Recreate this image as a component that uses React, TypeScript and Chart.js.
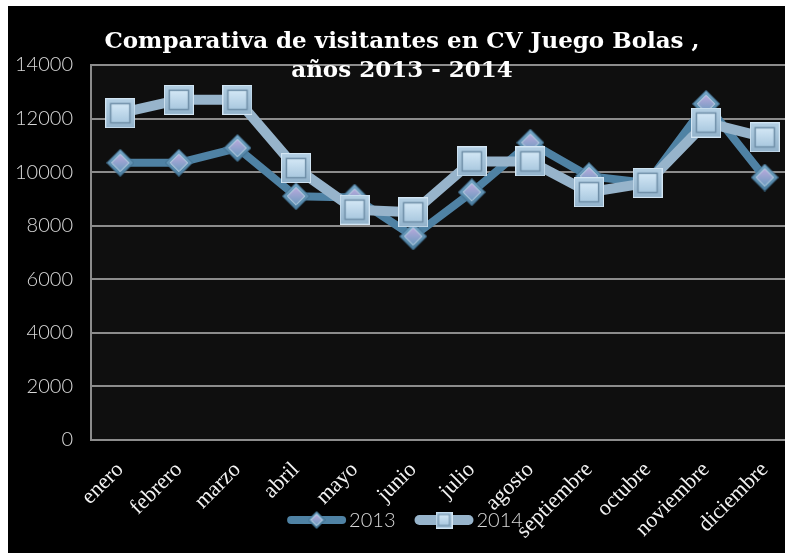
import React, { useEffect, useRef } from 'react';
import { Chart, registerables } from 'chart.js';

Chart.register(...registerables);

const months = ['enero', 'febrero', 'marzo', 'abril', 'mayo', 'junio', 'julio', 'agosto', 'septiembre', 'octubre', 'noviembre', 'diciembre'];
const visits2013 = [10350, 10350, 10900, 9100, 9050, 7600, 9250, 11100, 9850, 9600, 12550, 9800];
const visits2014 = [12200, 12700, 12700, 10150, 8600, 8500, 10400, 10400, 9250, 9600, 11850, 11300];
const seriesLabels = ['2013', '2014'];
const yMin = 0;
const yMax = 14000;
const yStep = 2000;
const titleLines = ['Comparativa de visitantes en CV Juego Bolas ,', 'años 2013 - 2014'];

const COLOR_2013 = '#4f82a4';
const COLOR_2014 = '#97b4cb';
const SANS = 'Lato, "Open Sans", sans-serif';
const SERIF = '"DejaVu Serif", "Liberation Serif", serif';
const SERIF_LIGHT = '"Liberation Serif", "DejaVu Serif", serif';

function makeSquare(size: number): HTMLCanvasElement {
  const c = document.createElement('canvas');
  c.width = size;
  c.height = size;
  const g = c.getContext('2d')!;
  const s = size;
  const og = g.createLinearGradient(0, 0, 0, s);
  og.addColorStop(0, '#b4d0e4');
  og.addColorStop(1, '#93b3cb');
  g.fillStyle = og;
  g.fillRect(0, 0, s, s);
  g.strokeStyle = '#d3e6f4';
  g.lineWidth = 1;
  g.strokeRect(0.5, 0.5, s - 1, s - 1);
  const inset = s * 0.18;
  const ig = g.createLinearGradient(0, inset, 0, s - inset);
  ig.addColorStop(0, '#d4e8f6');
  ig.addColorStop(1, '#a9c8df');
  g.fillStyle = ig;
  g.fillRect(inset, inset, s - 2 * inset, s - 2 * inset);
  g.strokeStyle = '#6f8fa8';
  g.lineWidth = Math.max(1, s / 20);
  g.strokeRect(inset, inset, s - 2 * inset, s - 2 * inset);
  return c;
}

function makeDiamond(size: number): HTMLCanvasElement {
  const c = document.createElement('canvas');
  c.width = size;
  c.height = size;
  const g = c.getContext('2d')!;
  const h = size / 2;
  const path = (r: number) => {
    g.beginPath();
    g.moveTo(h, h - r);
    g.lineTo(h + r, h);
    g.lineTo(h, h + r);
    g.lineTo(h - r, h);
    g.closePath();
  };
  path(h - 0.5);
  const og = g.createLinearGradient(0, 0, 0, size);
  og.addColorStop(0, '#78a9c9');
  og.addColorStop(1, '#4a7c9e');
  g.fillStyle = og;
  g.fill();
  g.strokeStyle = '#3f6d8c';
  g.lineWidth = 1;
  g.stroke();
  path(h * 0.62);
  const ig = g.createLinearGradient(0, h * 0.4, 0, size - h * 0.4);
  ig.addColorStop(0, '#b9a9dc');
  ig.addColorStop(1, '#6d9cc0');
  g.fillStyle = ig;
  g.fill();
  g.strokeStyle = '#c8dcea';
  g.lineWidth = 1;
  g.stroke();
  return c;
}

export default function App() {
  const ref = useRef<HTMLCanvasElement | null>(null);

  useEffect(() => {
    const canvas = ref.current;
    if (!canvas) return;
    const sq = makeSquare(30);
    const dm = makeDiamond(28);
    const sqSmall = makeSquare(17);
    const dmSmall = makeDiamond(18);

    const backgroundPlugin = {
      id: 'bg',
      beforeDraw(chart: any) {
        const { ctx, chartArea } = chart;
        ctx.save();
        ctx.fillStyle = '#000000';
        ctx.fillRect(0, 0, chart.width, chart.height);
        ctx.fillStyle = '#0f0f0f';
        ctx.fillRect(chartArea.left, chartArea.top, chartArea.right - chartArea.left, chartArea.bottom - chartArea.top);
        ctx.restore();
      },
    };

    const overlayPlugin = {
      id: 'overlay',
      afterDraw(chart: any) {
        const ctx = chart.ctx;
        ctx.save();
        // title
        ctx.fillStyle = '#ffffff';
        ctx.textAlign = 'center';
        ctx.textBaseline = 'alphabetic';
        ctx.font = 'bold 23px ' + SERIF;
        ctx.fillText(titleLines[0], 394, 42);
        ctx.fillText(titleLines[1], 394, 71);

        // legend
        ctx.font = '300 20px ' + SANS;
        ctx.textAlign = 'left';
        ctx.textBaseline = 'middle';
        const lineLen = 59;
        const gapText = 3;
        const gapItem = 19;
        const items = [
          { label: seriesLabels[0], color: COLOR_2013, width: 8, img: dmSmall },
          { label: seriesLabels[1], color: COLOR_2014, width: 10, img: sqSmall },
        ];
        let total = 0;
        items.forEach((it, i) => {
          total += lineLen + gapText + ctx.measureText(it.label).width + (i < items.length - 1 ? gapItem : 0);
        });
        let x = 397 - total / 2;
        const y = 514;
        items.forEach((it) => {
          ctx.strokeStyle = it.color;
          ctx.lineWidth = it.width;
          ctx.lineCap = 'round';
          ctx.beginPath();
          ctx.moveTo(x + it.width / 2, y);
          ctx.lineTo(x + lineLen - it.width / 2, y);
          ctx.stroke();
          ctx.drawImage(it.img, x + lineLen / 2 - it.img.width / 2, y - it.img.height / 2);
          x += lineLen + gapText;
          ctx.fillStyle = '#d9d9d9';
          ctx.fillText(it.label, x, y + 1);
          x += ctx.measureText(it.label).width + gapItem;
        });
        ctx.restore();
      },
    };

    const chart = new Chart(canvas, {
      type: 'line',
      data: {
        labels: months,
        datasets: [
          {
            label: seriesLabels[0],
            data: visits2013,
            borderColor: COLOR_2013,
            backgroundColor: COLOR_2013,
            borderWidth: 8,
            borderJoinStyle: 'round',
            pointStyle: dm as any,
            pointRadius: 14,
            tension: 0,
            order: 2,
            clip: false as any,
          },
          {
            label: seriesLabels[1],
            data: visits2014,
            borderColor: COLOR_2014,
            backgroundColor: COLOR_2014,
            borderWidth: 10,
            borderJoinStyle: 'round',
            pointStyle: sq as any,
            pointRadius: 15,
            tension: 0,
            order: 1,
            clip: false as any,
          },
        ],
      },
      options: {
        responsive: false,
        animation: false,
        layout: { autoPadding: false, padding: { top: 59, bottom: 0, left: 0, right: 0 } },
        plugins: {
          legend: { display: false },
          title: { display: false },
          tooltip: { enabled: false },
        },
        scales: {
          x: {
            type: 'category',
            offset: true,
            grid: { display: false, drawTicks: false },
            border: { display: true, color: '#8c8c8c', width: 2 },
            ticks: {
              color: '#f2f2f2',
              font: { family: SERIF_LIGHT, size: 22 },
              minRotation: 45,
              maxRotation: 45,
              autoSkip: false,
              padding: 17,
            },
            afterFit(scale: any) {
              scale.height = 113;
              scale.paddingRight = 0;
            },
          },
          y: {
            min: yMin,
            max: yMax,
            ticks: {
              stepSize: yStep,
              color: '#d9d9d9',
              font: { family: SANS, size: 20, weight: 300 as any },
              padding: 18,
              callback: (v: any) => String(v),
            },
            grid: { color: '#8c8c8c', lineWidth: 2, drawTicks: false },
            border: { display: true, color: '#8c8c8c', width: 2 },
            afterFit(scale: any) {
              scale.width = 83;
            },
          },
        },
      },
      plugins: [backgroundPlugin, overlayPlugin],
    } as any);

    return () => {
      chart.destroy();
    };
  }, []);

  return (
    <div style={{ position: 'fixed', left: 8, top: 6, width: 777, height: 547, overflow: 'hidden', background: '#000' }}>
      <canvas ref={ref} width={786} height={547} style={{ display: 'block', width: 786, height: 547 }} />
    </div>
  );
}
